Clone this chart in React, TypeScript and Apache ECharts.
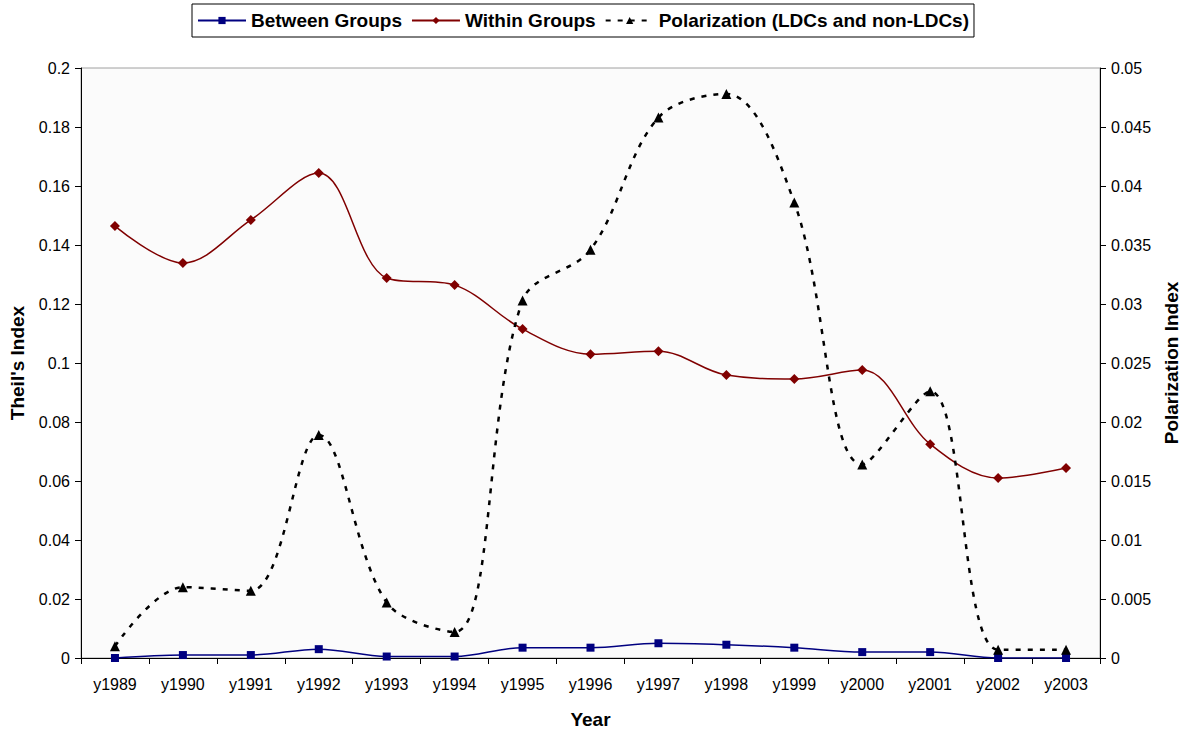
import React, { useEffect, useRef } from "react";
import * as echarts from "echarts";

const years = ["y1989","y1990","y1991","y1992","y1993","y1994","y1995","y1996","y1997","y1998","y1999","y2000","y2001","y2002","y2003"];
const betweenGroups = [0, 0.001, 0.001, 0.003, 0.0005, 0.0005, 0.0035, 0.0035, 0.005, 0.0045, 0.0035, 0.002, 0.002, 0, 0];
const withinGroups = [0.1464, 0.1339, 0.1485, 0.1644, 0.1288, 0.1264, 0.1115, 0.103, 0.104, 0.0959, 0.0946, 0.0976, 0.0725, 0.061, 0.0644];
const polarization = [0.001, 0.006, 0.0057, 0.0189, 0.0047, 0.0022, 0.0303, 0.0346, 0.0458, 0.0478, 0.0386, 0.0164, 0.0226, 0.0007, 0.0007];

const FONT = "Liberation Sans";

export default function App() {
  const ref = useRef<HTMLDivElement>(null);
  useEffect(() => {
    document.body.style.margin = "0";
    const chart = echarts.init(ref.current!, null, { renderer: "svg" });
    const fmt = (v: number) => String(+v.toFixed(3));
    const nameStyle = { fontFamily: FONT, fontWeight: "bold", fontSize: 19, color: "#000" };
    const labelStyle = { color: "#000", fontSize: 16, fontFamily: FONT };
    chart.setOption({
      animation: false,
      backgroundColor: "#ffffff",
      textStyle: { fontFamily: FONT },
      legend: {
        left: 192,
        top: 4,
        padding: [7, 5, 7, 5],
        borderColor: "#000",
        borderWidth: 1,
        itemWidth: 48,
        itemHeight: 9,
        itemGap: 9,
        textStyle: { fontFamily: FONT, fontWeight: "bold", fontSize: 19, color: "#000" },
        data: ["Between Groups", "Within Groups", "Polarization (LDCs and non-LDCs)"],
      },
      grid: {
        left: 81,
        right: 92,
        top: 68,
        bottom: 78,
        show: true,
        backgroundColor: "#fbfbfb",
        borderColor: "#a0a0a0",
        borderWidth: 1,
        outerBoundsMode: "none",
        containLabel: false,
      },
      xAxis: {
        type: "category",
        data: years,
        boundaryGap: true,
        name: "Year",
        nameLocation: "middle",
        nameGap: 52,
        nameTextStyle: nameStyle,
        axisLine: { lineStyle: { color: "#000", width: 1 } },
        axisTick: { show: true, alignWithLabel: false, length: 6, lineStyle: { color: "#000" } },
        axisLabel: { ...labelStyle, margin: 18, interval: 0 },
        splitLine: { show: false },
      },
      yAxis: [
        {
          type: "value",
          min: 0,
          max: 0.2,
          interval: 0.02,
          name: "Theil's Index",
          nameLocation: "middle",
          nameGap: 54,
          nameRotate: 90,
          nameTextStyle: nameStyle,
          axisLine: { show: true, lineStyle: { color: "#000", width: 1 } },
          axisTick: { show: true, length: 6, lineStyle: { color: "#000" } },
          axisLabel: { ...labelStyle, margin: 11, formatter: fmt },
          splitLine: { show: false },
        },
        {
          type: "value",
          min: 0,
          max: 0.05,
          interval: 0.005,
          position: "right",
          name: "Polarization Index",
          nameLocation: "middle",
          nameGap: 62,
          nameRotate: 90,
          nameTextStyle: nameStyle,
          axisLine: { show: true, lineStyle: { color: "#000", width: 1 } },
          axisTick: { show: true, length: 6, lineStyle: { color: "#000" } },
          axisLabel: { ...labelStyle, margin: 11, formatter: fmt },
          splitLine: { show: false },
        },
      ],
      series: [
        {
          name: "Between Groups",
          type: "line",
          yAxisIndex: 0,
          data: betweenGroups,
          smooth: 0.35,
          symbol: "rect",
          symbolSize: 8,
          itemStyle: { color: "#000080" },
          lineStyle: { color: "#000080", width: 1.5 },
        },
        {
          name: "Within Groups",
          type: "line",
          yAxisIndex: 0,
          data: withinGroups,
          smooth: 0.35,
          symbol: "diamond",
          symbolSize: 10,
          itemStyle: { color: "#800000" },
          lineStyle: { color: "#800000", width: 1.5 },
        },
        {
          name: "Polarization (LDCs and non-LDCs)",
          type: "line",
          yAxisIndex: 1,
          data: polarization,
          smooth: 0.35,
          symbol: "triangle",
          symbolSize: 10,
          itemStyle: { color: "#000" },
          lineStyle: { color: "#000", width: 2.5, type: [5, 7] },
        },
      ],
    });
    return () => chart.dispose();
  }, []);
  return <div ref={ref} style={{ width: 1192, height: 736 }} />;
}
